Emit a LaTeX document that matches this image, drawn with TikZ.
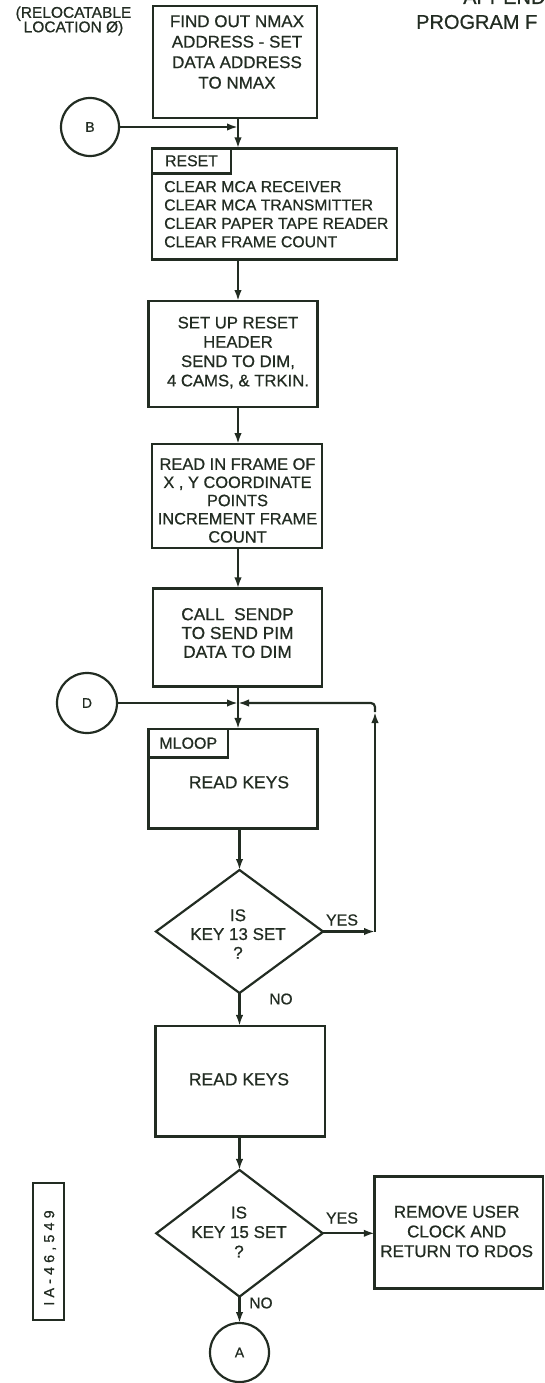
\documentclass[tikz,border=0pt]{standalone}
\usepackage{fontspec}
\setmainfont{Liberation Sans}[FakeBold=0.7]
\usetikzlibrary{shapes.geometric,arrows.meta}
\definecolor{ink}{RGB}{34,44,34}
\begin{document}
\begin{tikzpicture}[x=1pt,y=-1pt,
  blk/.style 2 args={draw=ink, line width=2.6pt, inner sep=0pt, outer sep=0pt,
    minimum width=#1pt, minimum height=#2pt},
  dia/.style 2 args={diamond, draw=ink, line width=2.2pt, inner sep=0pt, outer sep=0pt,
    minimum width=#1pt, minimum height=#2pt},
  circ/.style={circle, draw=ink, line width=2.2pt, inner sep=0pt, outer sep=0pt, minimum size=#1pt},
  txt/.style 2 args={text=ink, align=center, inner sep=0pt, font=\fontsize{#1}{#2}\selectfont},
  con/.style={draw=ink, line width=2.2pt},
  arr/.style={con, -{Latex[length=11pt,width=7.5pt]}}]
\useasboundingbox (0,0) rectangle (544,1383);
\clip (0,0) rectangle (544,1383);

% header texts
\node[txt={15.5}{14.5}] (reloc) at (73.5,21) {(RELOCATABLE\\LOCATION Ø)};
\node[txt={20}{22}, anchor=base west] (appx) at (463,4) {APPENDIX};
\node[txt={20}{22}, anchor=west] (prog) at (416,22) {PROGRAM F};

% boxes
\node[blk={164}{112}] (n1) at (235,62) {};
\node[txt={17}{20.5}] (n1t) at (237,52) {FIND OUT NMAX\\ADDRESS - SET\\DATA ADDRESS\\TO NMAX};

\node[circ=58] (B) at (90,127) {};
\node[txt={14}{16}] (Bt) at (B.center) {B};

\node[blk={245}{111}] (reset) at (274.5,203.8) {};
\node[blk={79}{25}, anchor=north west] (rtag) at (reset.north west) {};
\node[txt={15.8}{18}] (rtagt) at (rtag.center) {RESET};
\node[txt={15.8}{18.4}, align=left, anchor=west] (resett) at (164,214.2)
  {CLEAR MCA RECEIVER\\CLEAR MCA TRANSMITTER\\CLEAR PAPER TAPE READER\\CLEAR FRAME COUNT};

\node[blk={169}{106}] (setup) at (233,354) {};
\node[txt={16.7}{19.3}] (setupt) at (238,352.6) {SET UP RESET\\HEADER\\SEND TO DIM,\\4 CAMS, \& TRKIN.};

\node[blk={170}{104}] (ri) at (237,496) {};
\node[txt={16.4}{18.2}] (rit) at (237.5,500.5) {READ IN FRAME OF\\X , Y COORDINATE\\POINTS\\INCREMENT FRAME\\COUNT};

\node[blk={169}{98.4}] (sp) at (237.3,637.5) {};
\node[txt={17.3}{18.8}] (spt) at (237.5,633) {CALL\ \ SENDP\\TO SEND PIM\\DATA TO DIM};

\node[circ=60] (D) at (87,703) {};
\node[txt={14}{16}] (Dt) at (D.center) {D};

\node[blk={169.2}{99.3}] (ml) at (233.1,778.6) {};
\node[blk={79.5}{28.5}, anchor=north west] (mtag) at (ml.north west) {};
\node[txt={16}{18}] (mtagt) at (mtag.center) {MLOOP};
\node[txt={17.5}{20}] (mlt) at (239,782.3) {READ KEYS};

\node[dia={167}{123}] (d1) at (239.5,931.5) {};
\node[txt={17}{18.8}] (d1t) at (238,934) {IS\\KEY 13 SET\\?};
\node[txt={16}{18}] (yes1) at (342,920) {YES};
\node[txt={15.5}{18}] (no1) at (281,999) {NO};

\node[blk={169.6}{110.7}] (rk2) at (240.2,1081.3) {};
\node[txt={17.5}{20}] (rk2t) at (239,1079.3) {READ KEYS};

\node[dia={166.4}{126.7}] (d2) at (239.5,1233.3) {};
\node[txt={17}{19.5}] (d2t) at (239,1232) {IS\\KEY 15 SET\\?};
\node[txt={16}{18}] (yes2) at (342,1218) {YES};
\node[txt={15.5}{18}] (no2) at (261,1303) {NO};

\node[blk={168.3}{111.6}] (rm) at (458.9,1232.5) {};
\node[txt={17}{19.7}] (rmt) at (456.7,1231.5) {REMOVE USER\\CLOCK AND\\RETURN TO RDOS};

\node[circ=59] (A) at (239.5,1352.5) {};
\node[txt={14}{16}] (At) at (A.center) {A};

\node[blk={31}{137}] (ia) at (48.5,1251.5) {};
\node[txt={14.5}{16}, rotate=90] (iat) at (50,1258) {\addfontfeature{LetterSpace=28}IA-46,549};

% junctions
\coordinate (j1) at (238,127);
\coordinate (j2) at (238,703);
\coordinate (c1) at (375,931.5);
\coordinate (c2u) at (375,712);
\coordinate (c2) at (375,703);

% connectors
\draw[con] (n1.south -| j1) -- (j1);
\draw[arr] (B) -- (j1);
\draw[arr] (j1) -- (reset.north -| j1);
\draw[arr] (reset.south -| j1) -- (setup.north -| j1);
\draw[arr] (setup.south -| j1) -- (ri.north -| j1);
\draw[arr] (ri.south -| j1) -- (sp.north -| j1);
\draw[con] (sp.south -| j2) -- (j2);
\draw[arr] (D) -- (j2);
\draw[arr] (j2) -- (ml.north -| j2);
\draw[arr] (ml.south -| d1.north) -- (d1.north);
\draw[arr] (d1.east) -- (c1);
\draw[arr] (c1) -- (c2u);
\draw[arr, rounded corners=4pt] (c2u) -- (c2) -- (j2);
\draw[arr] (d1.south) -- (d1.south |- rk2.north);
\draw[arr] (rk2.south -| d2.north) -- (d2.north);
\draw[arr] (d2.east) -- (d2.east -| rm.west);
\draw[arr] (d2.south) -- (A.north);
\end{tikzpicture}
\end{document}
